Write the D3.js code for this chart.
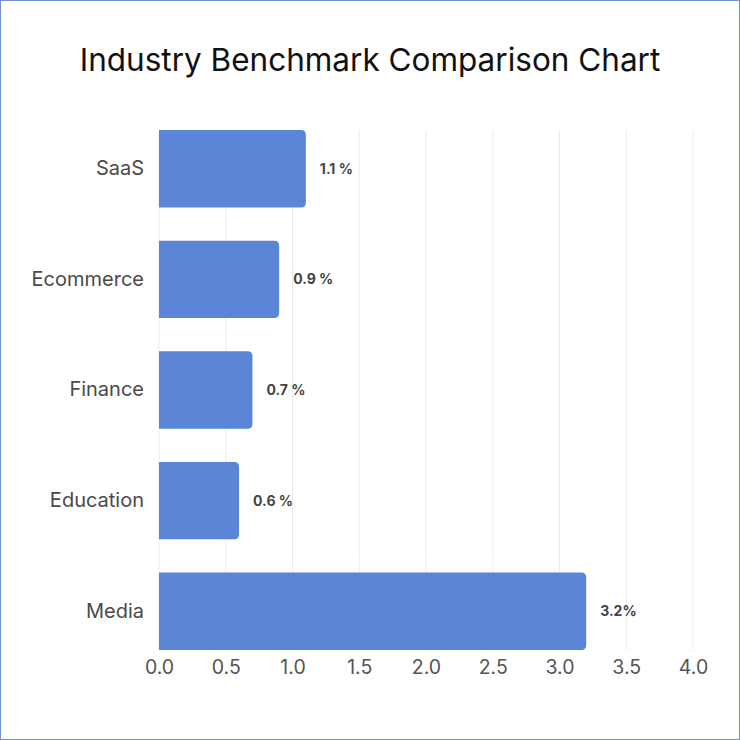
<!DOCTYPE html>
<html>
<head>
<meta charset="utf-8">
<script src="https://cdn.jsdelivr.net/npm/d3@7"></script>
<style>
html,body{margin:0;padding:0;background:#fff;}
svg{display:block;}
</style>
</head>
<body>
<script>
const categories = ["SaaS", "Ecommerce", "Finance", "Education", "Media"];
const values = [1.1, 0.9, 0.7, 0.6, 3.2];
const valueLabels = ["1.1 %", "0.9 %", "0.7 %", "0.6 %", "3.2%"];
const xTicks = [0, 0.5, 1, 1.5, 2, 2.5, 3, 3.5, 4];
const title = "Industry Benchmark Comparison Chart";

const W = 740, H = 740;
const m = {top: 130, right: 47, bottom: 90, left: 159};
const font = "Inter, 'Noto Sans', sans-serif";

const svg = d3.select("body").append("svg").attr("width", W).attr("height", H);
svg.append("rect").attr("x", 0.5).attr("y", 0.5).attr("width", W - 1).attr("height", H - 1)
  .attr("fill", "#fff").attr("stroke", "#6f93cc").attr("stroke-width", 1);

svg.append("text").attr("x", W / 2).attr("y", 71).attr("text-anchor", "middle")
  .attr("font-family", font).attr("font-size", 31.5).attr("fill", "#111").text(title);

const x = d3.scaleLinear().domain([0, 4]).range([m.left, W - m.right]);
const y = d3.scaleBand().domain(categories).range([m.top, H - m.bottom]).paddingInner(0.3).paddingOuter(0);

// grid
svg.append("g").selectAll("line").data(xTicks).join("line")
  .attr("x1", d => x(d)).attr("x2", d => x(d))
  .attr("y1", m.top).attr("y2", H - m.bottom)
  .attr("stroke", "#ebebeb").attr("stroke-width", 1);

// bars with rounded right corners
const r = 5;
svg.append("g").selectAll("path").data(categories).join("path")
  .attr("d", (c, i) => {
    const x0 = x(0), x1 = x(values[i]), y0 = y(c), h = y.bandwidth();
    return `M${x0},${y0}H${x1 - r}Q${x1},${y0} ${x1},${y0 + r}V${y0 + h - r}Q${x1},${y0 + h} ${x1 - r},${y0 + h}H${x0}Z`;
  })
  .attr("fill", "#5b85d7");

// value labels
svg.append("g").selectAll("text").data(categories).join("text")
  .attr("x", (c, i) => x(values[i]) + 14)
  .attr("y", c => y(c) + y.bandwidth() / 2)
  .attr("dy", "0.35em")
  .attr("font-family", font).attr("font-size", 14).attr("font-weight", 700)
  .attr("fill", "#444").text((c, i) => valueLabels[i]);

// y axis labels
const yAxis = d3.axisLeft(y).tickSize(0).tickPadding(15);
const gy = svg.append("g").attr("transform", `translate(${m.left},0)`).call(yAxis);
gy.select(".domain").remove();
gy.selectAll("text").attr("font-family", font).attr("font-size", 20).attr("fill", "#4a4a4a");

// x axis labels
const xAxis = d3.axisBottom(x).tickValues(xTicks).tickFormat(d3.format(".1f")).tickSize(0).tickPadding(10);
const gx = svg.append("g").attr("transform", `translate(0,${H - m.bottom})`).call(xAxis);
gx.select(".domain").remove();
gx.selectAll("text").attr("font-family", font).attr("font-size", 19.5).attr("fill", "#555");
</script>
</body>
</html>
